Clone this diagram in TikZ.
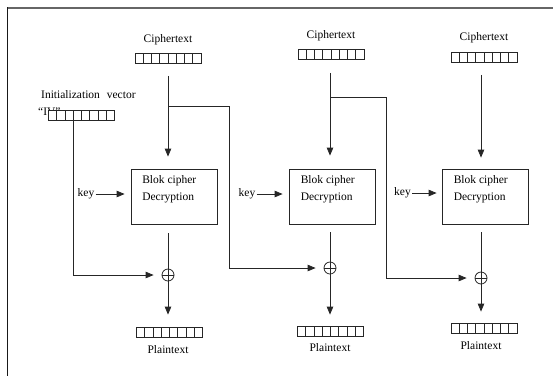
\documentclass[tikz,border=0pt]{standalone}
\usepackage{fontspec}
\setmainfont{Liberation Serif}
\usetikzlibrary{arrows.meta}
\begin{document}
\begin{tikzpicture}[x=1pt,y=-1pt,
  font=\fontsize{11.5}{17}\selectfont,
  wire/.style={line width=0.8pt, draw=black!85},
  arr/.style={wire, -{Triangle[length=8pt,width=6.5pt]}},
  reg/.style={draw=black!85, line width=0.8pt, fill=white,
    minimum width=66pt, minimum height=10pt, inner sep=0pt,
    path picture={\foreach \k in {1,...,7}{
      \draw[line width=0.8pt, black!85]
        ([xshift=\k*8.25pt]path picture bounding box.south west) --
        ([xshift=\k*8.25pt]path picture bounding box.north west);}}},
  box/.style={draw=black!85, line width=0.8pt, minimum width=86pt,
    minimum height=55pt, inner sep=0pt},
  boxtext/.style={anchor=north west, align=left, inner sep=0pt},
  xor/.style={circle, draw=black!85, line width=0.8pt, minimum size=12pt,
    inner sep=0pt,
    path picture={\draw[line width=0.8pt, black!85]
      (path picture bounding box.north) -- (path picture bounding box.south)
      (path picture bounding box.west) -- (path picture bounding box.east);}},
  lbl/.style={inner sep=1pt}
]
\useasboundingbox (0,0) rectangle (553,376);
% page frame
\draw[line width=2pt, black!60] (7,8) -- (553,8);
\draw[line width=1pt, black!90] (7,7) -- (7,376);

% ciphertext blocks
\node[lbl] (ct1l) at (168,40) {Ciphertext};
\node[reg] (ct1) at (168,58.5) {};
\node[lbl] (ct2l) at (331,36) {Ciphertext};
\node[reg] (ct2) at (331,54.5) {};
\node[lbl] (ct3l) at (484,38) {Ciphertext};
\node[reg] (ct3) at (484,57.5) {};

% initialization vector (its short name sits under the register)
\node[lbl, anchor=west] (ivl) at (40,95) {Initialization\hspace{4pt} vector};
\node[lbl, anchor=west] (ivq) at (37,112) {``IV''};
\node[reg] (iv) at (81.5,115) {};

% decryption boxes
\node[box] (box1) at (174.5,196.5) {};
\node[boxtext] (box1t) at ([xshift=11pt,yshift=-7pt]box1.north west) {Blok cipher\\Decryption};
\node[box] (box2) at (332,196.5) {};
\node[boxtext] (box2t) at ([xshift=12pt,yshift=-7pt]box2.north west) {Blok cipher\\Decryption};
\node[box] (box3) at (485,196.5) {};
\node[boxtext] (box3t) at ([xshift=12pt,yshift=-7pt]box3.north west) {Blok cipher\\Decryption};

% keys
\node[lbl] (k1) at (86,194) {key};
\node[lbl] (k2) at (247,194) {key};
\node[lbl] (k3) at (402.5,193) {key};

% xor gates
\node[xor] (x1) at (168,275) {};
\node[xor] (x2) at (330,268) {};
\node[xor] (x3) at (481,278) {};

% plaintext blocks
\node[reg] (pt1) at (169.5,332) {};
\node[lbl] (pt1l) at (168,350) {Plaintext};
\node[reg] (pt2) at (330.5,331) {};
\node[lbl] (pt2l) at (330,348) {Plaintext};
\node[reg] (pt3) at (484,328) {};
\node[lbl] (pt3l) at (481,346) {Plaintext};

% branch points of the chaining lines
\coordinate (b1) at (168,106);
\coordinate (c1) at (229,106);
\coordinate (b2) at (330,97);
\coordinate (c2) at (386,97);

% ciphertext into the decryption boxes
\draw[arr, shorten <=12pt, shorten >=12pt] (ct1.south -| b1) -- (box1.north -| b1);
\draw[arr, shorten <=13pt, shorten >=13pt] (ct2.south -| b2) -- (box2.north -| b2);
\draw[arr, shorten <=12pt, shorten >=11pt] (ct3.south -| x3) -- (box3.north -| x3);

% chaining: previous ciphertext to the next xor
\draw[arr, shorten >=8pt] (b1) -- (c1) |- (x2);
\draw[arr, shorten >=8pt] (b2) -- (c2) |- (x3);
\draw[arr, shorten >=8pt] ([xshift=-8.5pt]iv.south) |- (x1);

% keys
\draw[arr, shorten >=6.5pt] (k1.east) -- (k1.east -| box1.west);
\draw[arr, shorten >=6pt] (k2.east) -- (k2.east -| box2.west);
\draw[arr, shorten >=5pt] (k3.east) -- (k3.east -| box3.west);

% box outputs through the xor to the plaintext
\draw[wire, shorten <=9pt] (box1.south -| x1) -- (x1.north);
\draw[wire, shorten <=8pt] (box2.south -| x2) -- (x2.north);
\draw[wire, shorten <=8pt] (box3.south -| x3) -- (x3.north);
\draw[arr, shorten >=12pt] (x1.south) -- (pt1.north -| x1);
\draw[arr, shorten >=11pt] (x2.south) -- (pt2.north -| x2);
\draw[arr, shorten >=11pt] (x3.south) -- (pt3.north -| x3);
\end{tikzpicture}
\end{document}
